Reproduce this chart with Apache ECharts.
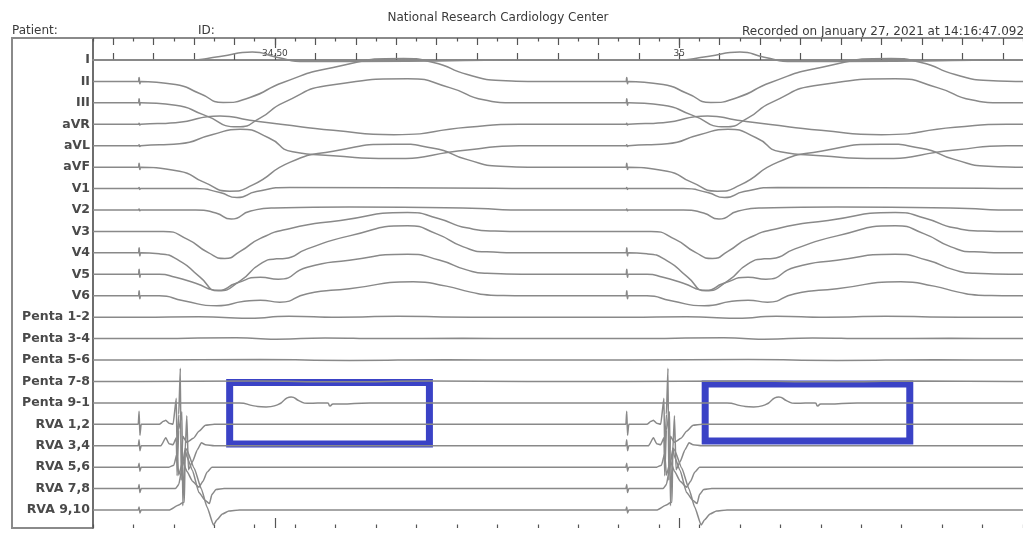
<!DOCTYPE html>
<html>
<head>
<meta charset="utf-8">
<script src="https://cdn.jsdelivr.net/npm/echarts@6/dist/echarts.min.js"></script>
<style>
  html, body { margin: 0; padding: 0; background: #ffffff; }
  #chart { width: 1023px; height: 535px; }
</style>
</head>
<body>
<div id="chart"></div>
<script>
// ---- Recording window (ms of session time) ----
const XMIN = 34275;
const XMAX = 35425;

// Paced beat onsets (stimulus times, ms)
const beatOnsets = [34332, 34935];

// Channel names, top to bottom
const leadNames = ['I', 'II', 'III', 'aVR', 'aVL', 'aVF', 'V1', 'V2', 'V3', 'V4', 'V5', 'V6',
  'Penta 1-2', 'Penta 3-4', 'Penta 5-6', 'Penta 7-8', 'Penta 9-1',
  'RVA 1,2', 'RVA 3,4', 'RVA 5,6', 'RVA 7,8', 'RVA 9,10'];

// Per-beat waveforms: [ms after stimulus, mV]
const leadI   = [[0,0],[60,0],[100,0.18],[140,0.4],[170,0.14],[205,-0.08],[330,-0.06],[484,0]];
const leadII  = [[-1,0],[0,0.2],[1,-0.12],[2,0],[45,-0.15],[75,-0.6],[104,-1.05],[137,-0.8],[178,-0.05],[240,0.7],[327,1.15],[364,0.95],[406,0.35],[447,0.05],[490,0]];
const leadIII = [[-1,0],[0,0.2],[1,-0.12],[2,0],[45,-0.12],[80,-0.6],[122,-1.2],[150,-0.75],[178,0],[240,0.9],[332,1.2],[385,0.75],[426,0.15],[460,0]];
const leadAVR = [[-1,0],[0,0.05],[1,-0.04],[2,0],[45,0.08],[100,0.42],[137,0.2],[175,0],[240,-0.3],[315,-0.52],[406,-0.15],[470,0]];
const leadAVL = [[-1,0],[0,0.05],[1,-0.04],[2,0],[50,0.1],[90,0.55],[125,0.82],[160,0.4],[190,-0.3],[240,-0.5],[310,-0.64],[406,-0.22],[470,0]];
const leadAVF = [[-1,0],[0,0.2],[1,-0.12],[2,0],[50,-0.2],[80,-0.75],[112,-1.2],[140,-0.9],[187,0.25],[240,0.8],[315,1.15],[364,0.95],[406,0.375],[447,0.05],[490,0]];
const leadV1  = [[-1,0],[0,0.05],[1,-0.04],[2,0],[70,0],[100,-0.2],[121,-0.45],[145,-0.15],[186,0.05],[440,0.02],[484,0]];
const leadV2  = [[-1,0],[0,0.05],[1,-0.04],[2,0],[70,0],[95,-0.15],[114,-0.45],[138,-0.05],[167,0.1],[260,0.15],[400,0.1],[484,0]];
const leadV3  = [[0,0],[30,0],[60,-0.4],[85,-1.05],[106,-1.35],[125,-1.0],[150,-0.35],[187,0.15],[249,0.55],[332,0.95],[370,0.65],[405,0.18],[440,0.02],[470,0]];
const leadV4  = [[-1,0],[0,0.25],[1,-0.15],[2,0],[25,-0.05],[50,-0.4],[75,-1.2],[98,-1.9],[125,-1.4],[150,-0.55],[170,-0.3],[180,-0.28],[208,0.2],[260,0.85],[332,1.35],[368,0.95],[401,0.3],[430,0.05],[484,0]];
const leadV5  = [[-1,0],[0,0.25],[1,-0.15],[2,0],[25,0],[45,-0.15],[70,-0.45],[98,-0.8],[120,-0.45],[150,-0.15],[172,-0.25],[208,0.35],[260,0.7],[332,1.0],[372,0.7],[405,0.22],[430,0.05],[484,0]];
const leadV6  = [[-1,0],[0,0.25],[1,-0.15],[2,0],[25,0],[55,-0.25],[96,-0.5],[130,-0.28],[150,-0.22],[174,-0.32],[208,0.1],[260,0.35],[339,0.7],[380,0.48],[410,0.18],[435,0.03],[484,0]];
const penta12 = [[0,0],[74,0.02],[136,-0.05],[185,0.05],[247,0],[320,0.04],[410,0]];
const penta34 = [[0,0],[120,0.04],[170,-0.03],[230,0.03],[300,0],[400,0.02],[480,0]];
const penta56 = [[0,0],[150,0.02],[260,-0.02],[380,0.01],[480,0]];
const penta78 = [[0,0],[140,0.02],[250,-0.02],[360,0.02],[480,0]];
const penta91 = [[0,0],[124,0],[142,-0.15],[157,-0.2],[171,-0.1],[188,0.3],[198,0.1],[208,-0.02],[233,0],[236,-0.15],[240,-0.05],[247,-0.05],[285,0]];
const rva12   = [[-1,0],[0,0.65],[1,-0.55],[2.5,0],[25,0],[30,0.15],[33,0.2],[37,0.05],[42,0],[46,1.3],[47,-1.5],[49,0.5],[51,2.8],[52,-2.8],[54,-0.6],[59,-0.9],[67,-0.7],[74,-0.35],[82,-0.05],[93,0]];
const rva34   = [[-1,0],[0,0.3],[1,-0.25],[2.5,0],[27,0],[33,0.4],[37,0.1],[42,0.05],[46,0.4],[47,-1.5],[49,0.8],[53,1.7],[54,-3.0],[57,-0.2],[59,1.5],[61,-1.2],[66,-0.8],[72,-0.2],[77,0.15],[82,0.05],[93,0]];
const rva56   = [[-1,0],[0,0.2],[1,-0.2],[2.5,0],[37,0],[43,0.1],[47,0.7],[49,-0.4],[54,0.3],[59,-0.2],[66,-0.7],[74,-1.0],[79,-0.7],[84,-0.25],[90,0],[100,0]];
const rva78   = [[-1,0],[0,0.2],[1,-0.2],[2.5,0],[45,0],[49,0.2],[53,1.0],[57,2.0],[59,1.6],[66,0.9],[74,-0.2],[82,-0.6],[87,-0.75],[90,-0.3],[95,-0.05],[105,0]];
const rva910  = [[-1,0],[0,0.15],[1,-0.15],[2.5,0],[37,0],[49,0.25],[53,0.35],[56,0.4],[57,3.1],[59,3.0],[68,2.1],[77,1.05],[84,0.15],[92,-0.75],[96,-0.5],[103,-0.2],[111,-0.05],[124,0]];

const leadWaves = [leadI, leadII, leadIII, leadAVR, leadAVL, leadAVF, leadV1, leadV2, leadV3, leadV4, leadV5, leadV6,
  penta12, penta34, penta56, penta78, penta91, rva12, rva34, rva56, rva78, rva910];

// Time-axis ticks and labels
const tickLabelValues = [34500, 35000];
const tickLabelTexts = ['34.50', '35'];
const longTicks = [];
const shortTicks = [];
for (let t = 34300; t <= XMAX; t += 50) longTicks.push(t);
for (let t = 34275; t <= XMAX; t += 50) shortTicks.push(t);

// Highlighted far-field segments on Penta 9-1 / RVA 1,2
const highlightBoxes = [
  [{ xAxis: 34444, yAxis: -16.13 }, { xAxis: 34691, yAxis: -19.2 }],
  [{ xAxis: 35032, yAxis: -16.2 }, { xAxis: 35285, yAxis: -19.05 }]
];

// Header text
const headerTitle = 'National Research Cardiology Center';
const headerPatient = 'Patient:';
const headerId = 'ID:';
const headerRecorded = 'Recorded on January 27, 2021 at 14:16:47.092';

// ---- Layout ----
const ROW = 1.0715;          // channel spacing in mV at display gain
const Y_MAX = 1.1;
const Y_MIN = -23.4;
const TRACE = '#898989';
const FRAME = '#8a8a8a';
const HEADER_FONT = '12px "DejaVu Sans"';

function baseline(i) { return -i * ROW; }

function buildTrace(wave, i) {
  const b = baseline(i);
  const pts = [[XMIN, b]];
  beatOnsets.forEach(onset => {
    wave.forEach(([dt, v]) => pts.push([onset + dt, b + v]));
  });
  pts.push([XMAX, b]);
  return pts;
}

const series = leadWaves.map((wave, i) => {
  const intracardiac = i >= 17;
  return {
    type: 'line',
    name: leadNames[i],
    data: buildTrace(wave, i),
    showSymbol: false,
    symbol: 'none',
    smooth: intracardiac ? 0.15 : 0.6,
    smoothMonotone: intracardiac ? 'x' : null,
    silent: true,
    lineStyle: { color: TRACE, width: 1.5 },
    z: 3
  };
});

series.push({
  type: 'line',
  data: [],
  silent: true,
  z: 10,
  markArea: {
    silent: true,
    itemStyle: { color: 'rgba(0,0,0,0)', borderColor: '#3a42c6', borderWidth: 7 },
    data: highlightBoxes
  }
});

function tickAxis(position, values, len, withLine, withLabels) {
  return {
    type: 'value', gridIndex: 0, position: position,
    min: XMIN, max: XMAX,
    splitLine: { show: false },
    axisLine: { show: withLine, lineStyle: { color: FRAME, width: 2 } },
    axisTick: { show: true, inside: true, length: len, customValues: values,
                lineStyle: { color: '#555', width: 1.2 } },
    axisLabel: withLabels ? {
      show: true, inside: true, margin: 11, customValues: tickLabelValues,
      fontFamily: 'DejaVu Sans', fontSize: 9, color: '#444',
      formatter: v => {
        const k = tickLabelValues.findIndex(x => Math.abs(x - v) < 0.5);
        return k >= 0 ? tickLabelTexts[k] : '';
      }
    } : { show: false }
  };
}

const chart = echarts.init(document.getElementById('chart'), null, { renderer: 'canvas' });
chart.setOption({
  animation: false,
  backgroundColor: '#ffffff',
  grid: { left: 93, top: 38, width: 930, height: 490, containLabel: false },
  xAxis: [
    tickAxis('bottom', longTicks, 7, true, false),
    tickAxis('bottom', shortTicks, 3.5, false, false),
    tickAxis('bottom', tickLabelValues, 10, false, false),
    tickAxis('top', longTicks, 7, true, true),
    tickAxis('top', shortTicks, 3.5, false, false),
    tickAxis('top', tickLabelValues, 10, false, false)
  ],
  yAxis: {
    type: 'value', min: Y_MIN, max: Y_MAX,
    splitLine: { show: false },
    axisTick: { show: false },
    axisLine: { show: true, lineStyle: { color: '#6e6e6e', width: 2 } },
    axisLabel: {
      show: true, margin: 3,
      customValues: leadNames.map((_, i) => baseline(i)),
      formatter: v => leadNames[Math.round(-v / ROW)] || '',
      fontFamily: 'DejaVu Sans', fontWeight: 'bold', fontSize: 12.5, color: '#4a4a4a'
    }
  },
  graphic: [
    { type: 'polyline', silent: true,
      shape: { points: [[93, 38], [12, 38], [12, 528], [93, 528]] },
      style: { stroke: FRAME, lineWidth: 2, fill: null } },
    { type: 'text', silent: true, x: 498, y: 18,
      style: { text: headerTitle, font: HEADER_FONT, fill: '#3a3a3a', textAlign: 'center', textVerticalAlign: 'middle' } },
    { type: 'text', silent: true, x: 12, y: 31,
      style: { text: headerPatient, font: HEADER_FONT, fill: '#3a3a3a', textAlign: 'left', textVerticalAlign: 'middle' } },
    { type: 'text', silent: true, x: 198, y: 31,
      style: { text: headerId, font: HEADER_FONT, fill: '#3a3a3a', textAlign: 'left', textVerticalAlign: 'middle' } },
    { type: 'text', silent: true, x: 742, y: 32,
      style: { text: headerRecorded, font: HEADER_FONT, fill: '#3a3a3a', textAlign: 'left', textVerticalAlign: 'middle' } }
  ],
  series: series
});
</script>
</body>
</html>
